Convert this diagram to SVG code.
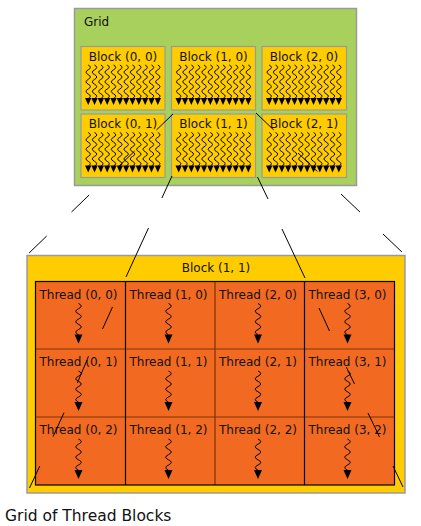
<svg xmlns="http://www.w3.org/2000/svg" width="421" height="526" viewBox="0 0 421 526">
<style>
.t{font-family:"DejaVu Sans","Verdana",sans-serif;font-size:12px;fill:#111}
.blk{fill:#FFCC00;stroke:#9a9a9a;stroke-width:1.2}
.cell{fill:#F26A22}
.wv{fill:none;stroke:#000;stroke-width:1}
.ah{fill:#000}
.ln{stroke:#000;stroke-width:1;fill:none}
</style>
<defs>
<g id="sw">
<path class="wv" d="M0,0 q4.4,2.4 0,4.8 q-4.4,2.4 0,4.8 q4.4,2.4 0,4.8 q-4.4,2.4 0,4.8 q4.4,2.4 0,4.8 q-4.4,2.4 0,4.8 q4.4,2.4 0,4.8"/>
<path class="ah" d="M-3.17,33 L3.17,33 L0,40 Z"/>
</g>
<g id="w12">
<use href="#sw" x="7.2" y="18.5"/><use href="#sw" x="13.53" y="18.5"/><use href="#sw" x="19.86" y="18.5"/><use href="#sw" x="26.19" y="18.5"/><use href="#sw" x="32.52" y="18.5"/><use href="#sw" x="38.85" y="18.5"/><use href="#sw" x="45.18" y="18.5"/><use href="#sw" x="51.51" y="18.5"/><use href="#sw" x="57.84" y="18.5"/><use href="#sw" x="64.17" y="18.5"/><use href="#sw" x="70.5" y="18.5"/><use href="#sw" x="76.83" y="18.5"/>
</g>
<g id="tw">
<path class="wv" d="M0,0 q5.5,2.6 0,5.2 q-5.5,2.6 0,5.2 q5.5,2.6 0,5.2 q-5.5,2.6 0,5.2 q5.5,2.6 0,5.2 q-5.5,2.6 0,5.2"/>
<path class="ah" d="M-4,31 L4,31 L0,40 Z"/>
</g>
</defs>
<rect width="421" height="526" fill="#fff"/>

<g id="grid">
<rect x="74.5" y="8.5" width="282" height="177" fill="#A8D05C" stroke="#9a9a9a" stroke-width="1.5"/>
<text class="t" x="84" y="26">Grid</text>
</g>
<g id="block-0-0"><rect class="blk" x="81" y="46.5" width="84" height="63.5"/><text class="t" x="123" y="60.7" text-anchor="middle">Block (0, 0)</text><use href="#w12" x="81" y="46.5"/></g>
<g id="block-1-0"><rect class="blk" x="171.5" y="46.5" width="84" height="63.5"/><text class="t" x="213.5" y="60.7" text-anchor="middle">Block (1, 0)</text><use href="#w12" x="171.5" y="46.5"/></g>
<g id="block-2-0"><rect class="blk" x="262" y="46.5" width="84.5" height="63.5"/><text class="t" x="304" y="60.7" text-anchor="middle">Block (2, 0)</text><use href="#w12" x="262" y="46.5"/></g>
<g id="block-0-1"><rect class="blk" x="81" y="114" width="84" height="63.5"/><text class="t" x="123" y="128.2" text-anchor="middle">Block (0, 1)</text><use href="#w12" x="81" y="114"/></g>
<g id="block-1-1"><rect class="blk" x="171.5" y="114" width="84" height="63.5"/><text class="t" x="213.5" y="128.2" text-anchor="middle">Block (1, 1)</text><use href="#w12" x="171.5" y="114"/></g>
<g id="block-2-1"><rect class="blk" x="262" y="114" width="84.5" height="63.5"/><text class="t" x="304" y="128.2" text-anchor="middle">Block (2, 1)</text><use href="#w12" x="262" y="114"/></g>

<g id="block-1-1-detail">
<rect x="27" y="255.5" width="378" height="237.5" fill="#FFCC00" stroke="#9a9a9a" stroke-width="1.5"/>
<text class="t" x="216" y="271.7" text-anchor="middle">Block (1, 1)</text>
</g>

<g id="thread-0-0"><rect class="cell" x="35.5" y="281.5" width="90" height="67.5"/><text class="t" x="39.5" y="298.5">Thread (0, 0)</text><use href="#tw" x="78.5" y="303.5"/></g>
<g id="thread-1-0"><rect class="cell" x="125.5" y="281.5" width="89.5" height="67.5"/><text class="t" x="129.5" y="298.5">Thread (1, 0)</text><use href="#tw" x="168.5" y="303.5"/></g>
<g id="thread-2-0"><rect class="cell" x="215" y="281.5" width="89.5" height="67.5"/><text class="t" x="219" y="298.5">Thread (2, 0)</text><use href="#tw" x="258" y="303.5"/></g>
<g id="thread-3-0"><rect class="cell" x="304.5" y="281.5" width="90" height="67.5"/><text class="t" x="308.5" y="298.5">Thread (3, 0)</text><use href="#tw" x="347.5" y="303.5"/></g>
<g id="thread-0-1"><rect class="cell" x="35.5" y="349" width="90" height="68"/><text class="t" x="39.5" y="366">Thread (0, 1)</text><use href="#tw" x="78.5" y="371"/></g>
<g id="thread-1-1"><rect class="cell" x="125.5" y="349" width="89.5" height="68"/><text class="t" x="129.5" y="366">Thread (1, 1)</text><use href="#tw" x="168.5" y="371"/></g>
<g id="thread-2-1"><rect class="cell" x="215" y="349" width="89.5" height="68"/><text class="t" x="219" y="366">Thread (2, 1)</text><use href="#tw" x="258" y="371"/></g>
<g id="thread-3-1"><rect class="cell" x="304.5" y="349" width="90" height="68"/><text class="t" x="308.5" y="366">Thread (3, 1)</text><use href="#tw" x="347.5" y="371"/></g>
<g id="thread-0-2"><rect class="cell" x="35.5" y="417" width="90" height="68"/><text class="t" x="39.5" y="434">Thread (0, 2)</text><use href="#tw" x="78.5" y="439"/></g>
<g id="thread-1-2"><rect class="cell" x="125.5" y="417" width="89.5" height="68"/><text class="t" x="129.5" y="434">Thread (1, 2)</text><use href="#tw" x="168.5" y="439"/></g>
<g id="thread-2-2"><rect class="cell" x="215" y="417" width="89.5" height="68"/><text class="t" x="219" y="434">Thread (2, 2)</text><use href="#tw" x="258" y="439"/></g>
<g id="thread-3-2"><rect class="cell" x="304.5" y="417" width="90" height="68"/><text class="t" x="308.5" y="434">Thread (3, 2)</text><use href="#tw" x="347.5" y="439"/></g>

<g id="thread-grid-lines" fill="none" stroke-width="1.2">
<path stroke="#7A3208" d="M35.5,349 H394.5 M35.5,417 H394.5 M215,281.5 V485"/>
<path stroke="#000" d="M125.5,281.5 V485 M304.5,281.5 V485"/>
<rect x="35.5" y="281.5" width="359" height="203.5" stroke="#000"/>
</g>

<g id="connectors" class="ln">
<path class="ln" d="M173,114 L156.4,130 M134.7,151 L118.1,167 M89.1,195 L71.5,212 M46.7,236 L29.1,253"/>
<path class="ln" d="M256,113 L273.8,130 M298,153 L317.4,171.5 M341,194 L359.9,212 M383,234 L401.9,252"/>
<path class="ln" d="M257.5,177 L268,199 M282,229 L305,278 M319,308 L329.5,331 M346.3,367 L354.5,384 M368,413 L379.5,437 M393,466 L403,487"/>
<path class="ln" d="M172,176 L161.9,198 M148.5,228 L126,277 M112.5,307 L102.5,329 M87,360 L77.3,383 M64,412.7 L53,436.7 M39.8,466 L29.5,488"/>
</g>

<text x="5" y="521" style="font-family:'DejaVu Sans','Verdana',sans-serif;font-size:15.5px;fill:#111">Grid of Thread Blocks</text>
</svg>
